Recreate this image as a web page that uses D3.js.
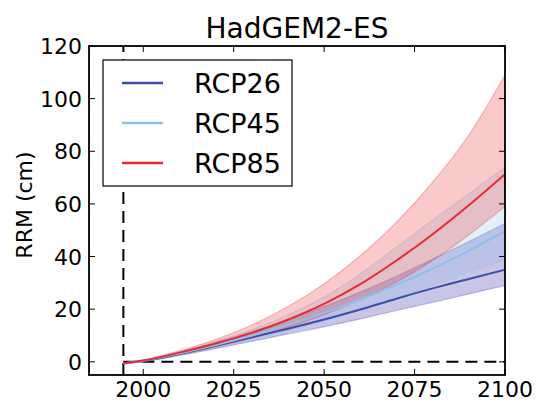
<!DOCTYPE html>
<html>
<head>
<meta charset="utf-8">
<script src="https://cdn.jsdelivr.net/npm/d3@7"></script>
<style>
  body { margin: 0; background: #fff; }
  svg { display: block; }
  text { font-family: "DejaVu Sans", sans-serif; fill: #000; }
</style>
</head>
<body>
<svg id="chart" width="537" height="401"></svg>
<script>
// Projected regional relative sea-level rise, HadGEM2-ES
const years = [1994.5, 2000, 2010, 2020, 2030, 2040, 2050, 2060, 2070, 2080, 2090, 2100];

const rcp26Mean = [-0.6, 0.3, 3.0, 6.1, 9.3, 12.6, 16.1, 19.9, 24.0, 27.9, 31.5, 35.0];
const rcp26Low  = [-0.6, 0.1, 2.4, 5.0, 7.8, 10.6, 13.3, 16.3, 19.5, 22.6, 25.8, 29.0];
const rcp26High = [-0.6, 0.6, 3.6, 7.3, 11.5, 16.0, 21.0, 26.5, 32.5, 39.0, 45.7, 52.6];

const rcp45Mean = [-0.6, 0.4, 3.2, 6.4, 10.0, 14.1, 18.6, 23.7, 29.3, 35.4, 42.2, 49.7];
const rcp45Low  = [-0.6, 0.2, 2.7, 5.5, 8.5, 11.8, 15.5, 19.6, 24.1, 29.0, 34.0, 39.0];
const rcp45High = [-0.6, 0.7, 3.8, 7.8, 12.3, 17.8, 24.6, 33.4, 43.5, 53.8, 63.9, 74.0];

const rcp85Mean = [-0.5, 0.5, 3.5, 7.0, 11.0, 16.0, 22.0, 29.5, 38.5, 48.5, 59.5, 71.3];
const rcp85Low  = [-0.5, 0.4, 2.8, 5.7, 9.1, 13.1, 17.9, 23.6, 30.3, 38.5, 48.2, 59.0];
const rcp85High = [-0.5, 0.8, 4.2, 8.5, 14.0, 21.0, 29.7, 40.3, 53.1, 68.3, 86.2, 109.0];

const scenarios = ["RCP26", "RCP45", "RCP85"];
const lineColors = ["#3b4fa6", "#8ec0e8", "#ec2a2e"];
const bandColors = ["#4a40b0", "#8ec0e8", "#ec2a2e"];

const xTicks = [2000, 2025, 2050, 2075, 2100];
const yTicks = [0, 20, 40, 60, 80, 100, 120];
const baseYear = 1994.5;

const svg = d3.select("#chart");
const plotLeft = 89, plotRight = 505, plotTop = 46, plotBottom = 375;

const x = d3.scaleLinear().domain([1985, 2100]).range([plotLeft, plotRight]);
const y = d3.scaleLinear().domain([-5, 120]).range([plotBottom, plotTop]);

const series = [
  { mean: rcp26Mean, low: rcp26Low, high: rcp26High },
  { mean: rcp45Mean, low: rcp45Low, high: rcp45High },
  { mean: rcp85Mean, low: rcp85Low, high: rcp85High }
];

svg.append("defs").append("clipPath").attr("id", "plot-clip")
  .append("rect").attr("x", plotLeft).attr("y", plotTop)
  .attr("width", plotRight - plotLeft).attr("height", plotBottom - plotTop);

const plot = svg.append("g").attr("clip-path", "url(#plot-clip)");

// Reference lines
plot.append("line")
  .attr("x1", x(baseYear)).attr("x2", x(baseYear))
  .attr("y1", y(-5)).attr("y2", y(120))
  .attr("stroke", "#000").attr("stroke-width", 2)
  .attr("stroke-dasharray", "12,7");
plot.append("line")
  .attr("x1", x(baseYear)).attr("x2", x(2100))
  .attr("y1", y(0)).attr("y2", y(0))
  .attr("stroke", "#000").attr("stroke-width", 2)
  .attr("stroke-dasharray", "12,7");

const area = d3.area().curve(d3.curveMonotoneX)
  .x((d, i) => x(years[i]))
  .y0(d => y(d[0])).y1(d => y(d[1]));
const line = d3.line().curve(d3.curveMonotoneX)
  .x((d, i) => x(years[i])).y(d => y(d));

// Uncertainty bands
series.forEach((s, k) => {
  const pts = years.map((_, i) => [s.low[i], s.high[i]]);
  plot.append("path").datum(pts)
    .attr("d", area)
    .attr("fill", bandColors[k]).attr("fill-opacity", k === 0 ? 0.3 : 0.25)
    .attr("stroke", bandColors[k]).attr("stroke-opacity", 0.3)
    .attr("stroke-width", 1.2);
});

// Ensemble means
series.forEach((s, k) => {
  plot.append("path").datum(s.mean)
    .attr("d", line)
    .attr("fill", "none")
    .attr("stroke", lineColors[k]).attr("stroke-width", 2);
});

// Frame and inward ticks on all four sides
const axes = svg.append("g");
const tickLen = 6;
xTicks.forEach(t => {
  axes.append("line").attr("x1", x(t)).attr("x2", x(t))
    .attr("y1", plotBottom).attr("y2", plotBottom - tickLen).attr("stroke", "#000").attr("stroke-width", 1);
  axes.append("line").attr("x1", x(t)).attr("x2", x(t))
    .attr("y1", plotTop).attr("y2", plotTop + tickLen).attr("stroke", "#000").attr("stroke-width", 1);
  axes.append("text").attr("x", x(t)).attr("y", 397)
    .attr("text-anchor", "middle").attr("font-size", 22).text(t);
});
yTicks.forEach(t => {
  axes.append("line").attr("x1", plotLeft).attr("x2", plotLeft + tickLen)
    .attr("y1", y(t)).attr("y2", y(t)).attr("stroke", "#000").attr("stroke-width", 1);
  axes.append("line").attr("x1", plotRight).attr("x2", plotRight - tickLen)
    .attr("y1", y(t)).attr("y2", y(t)).attr("stroke", "#000").attr("stroke-width", 1);
  axes.append("text").attr("x", plotLeft - 7).attr("y", y(t) + 8)
    .attr("text-anchor", "end").attr("font-size", 22).text(t);
});
axes.append("rect").attr("x", plotLeft).attr("y", plotTop)
  .attr("width", plotRight - plotLeft).attr("height", plotBottom - plotTop)
  .attr("fill", "none").attr("stroke", "#000").attr("stroke-width", 1.8);

// Title and axis label
svg.append("text").attr("x", (plotLeft + plotRight) / 2).attr("y", 38)
  .attr("text-anchor", "middle").attr("font-size", 28).text("HadGEM2-ES");
svg.append("text")
  .attr("transform", "translate(32,205) rotate(-90)")
  .attr("text-anchor", "middle").attr("font-size", 22).text("RRM (cm)");

// Legend
const lg = svg.append("g");
lg.append("rect").attr("x", 103).attr("y", 60).attr("width", 189).attr("height", 126)
  .attr("fill", "#fff").attr("stroke", "#000").attr("stroke-width", 1.2);
scenarios.forEach((name, k) => {
  const cy = 83 + k * 40;
  lg.append("line").attr("x1", 122).attr("x2", 163).attr("y1", cy).attr("y2", cy)
    .attr("stroke", lineColors[k]).attr("stroke-width", 2.5);
  lg.append("text").attr("x", 194).attr("y", cy + 10).attr("font-size", 27).text(name);
});
</script>
</body>
</html>
